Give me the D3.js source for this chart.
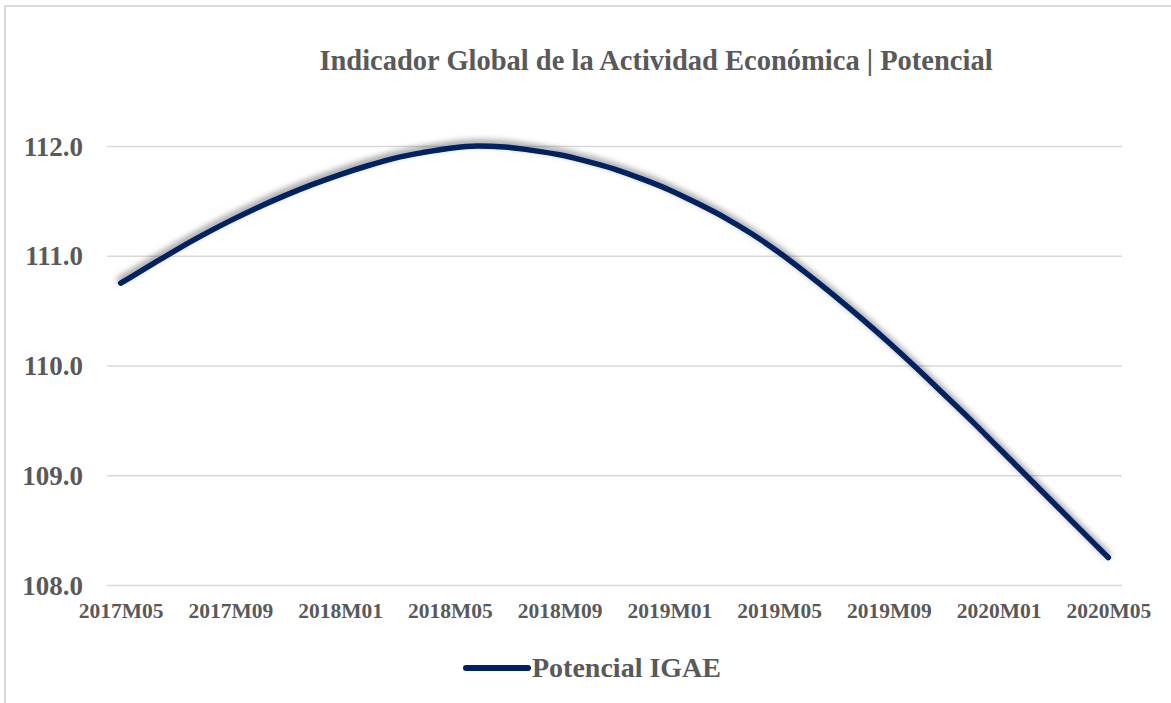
<!DOCTYPE html>
<html>
<head>
<meta charset="utf-8">
<script src="https://cdn.jsdelivr.net/npm/d3@7"></script>
<style>
  body { margin:0; background:white; }
  svg text { font-family: "Liberation Serif", "DejaVu Serif", serif; font-weight:bold; fill:#595959; }
</style>
</head>
<body>
<svg id="chart"></svg>
<script>
var width = 1171, height = 703

// data
var months = ['2017M05','2017M06','2017M07','2017M08','2017M09','2017M10','2017M11','2017M12',
  '2018M01','2018M02','2018M03','2018M04','2018M05','2018M06','2018M07','2018M08','2018M09','2018M10','2018M11','2018M12',
  '2019M01','2019M02','2019M03','2019M04','2019M05','2019M06','2019M07','2019M08','2019M09','2019M10','2019M11','2019M12',
  '2020M01','2020M02','2020M03','2020M04','2020M05']
var potencial = [110.75,110.90,111.05,111.19,111.32,111.44,111.55,111.65,
  111.74,111.82,111.89,111.94,111.98,112.00,111.99,111.96,111.92,111.86,111.79,111.70,
  111.60,111.48,111.35,111.20,111.03,110.84,110.64,110.43,110.21,109.98,109.74,109.50,
  109.25,109.00,108.75,108.50,108.25]
var yTicks = [108,109,110,111,112]
var xTickLabels = ['2017M05','2017M09','2018M01','2018M05','2018M09','2019M01','2019M05','2019M09','2020M01','2020M05']
var title = 'Indicador Global de la Actividad Económica | Potencial'
var seriesName = 'Potencial IGAE'

var svg = d3.select('#chart').attr('width', width).attr('height', height)

var margin = {left:107, right:49, top:146, bottom:118}

var x = d3.scalePoint().domain(months).range([margin.left, width-margin.right]).padding(0.5)
var y = d3.scaleLinear().domain([108,112]).range([height-margin.bottom, margin.top])

// frame
svg.append('path')
  .attr('d', 'M5,' + height + 'V6H' + width)
  .attr('fill','none')
  .attr('stroke','#d9d9d9')
  .attr('stroke-width',2)

// shadow filter
var defs = svg.append('defs')
defs.append('filter').attr('id','shadow')
  .attr('x','-10%').attr('y','-20%').attr('width','120%').attr('height','140%')
  .append('feDropShadow')
  .attr('dx',-1).attr('dy',-3)
  .attr('stdDeviation',3)
  .attr('flood-color','#000')
  .attr('flood-opacity',0.45)

// title
svg.append('text')
  .attr('x', 656).attr('y', 70)
  .attr('text-anchor','middle')
  .style('font-size','28.5px')
  .text(title)

// gridlines + y axis
var yAxis = d3.axisLeft(y).tickValues(yTicks).tickFormat(d3.format('.1f'))
  .tickSize(-(width-margin.left-margin.right)).tickPadding(24)
var gy = svg.append('g').attr('transform','translate('+margin.left+',0)').call(yAxis)
gy.select('.domain').remove()
gy.selectAll('.tick line').attr('stroke','#d9d9d9').attr('stroke-width',1.5)
gy.selectAll('.tick text').style('font-size','27px').attr('fill','#595959').attr('dy','0.34em')

// x axis
var xAxis = d3.axisBottom(x).tickValues(xTickLabels).tickSize(0).tickPadding(18)
var gx = svg.append('g').attr('transform','translate(0,'+(height-margin.bottom)+')').call(xAxis)
gx.select('.domain').remove()
gx.selectAll('.tick text').style('font-size','21.5px').attr('fill','#595959')

// line
var line = d3.line()
  .x(function(d,i){return x(months[i])})
  .y(function(d){return y(d)})
  .curve(d3.curveMonotoneX)

svg.append('path')
  .datum(potencial)
  .attr('d', line)
  .attr('fill','none')
  .attr('stroke','#002060')
  .attr('stroke-width',5.5)
  .attr('stroke-linecap','round')
  .attr('filter','url(#shadow)')

// legend
var legend = svg.append('g').attr('transform','translate(466,668)')
legend.append('line')
  .attr('x1',0).attr('x2',62)
  .attr('stroke','#002060').attr('stroke-width',6).attr('stroke-linecap','round')
legend.append('text')
  .attr('x',66).attr('y',9)
  .style('font-size','28px')
  .text(seriesName)
</script>
</body>
</html>
